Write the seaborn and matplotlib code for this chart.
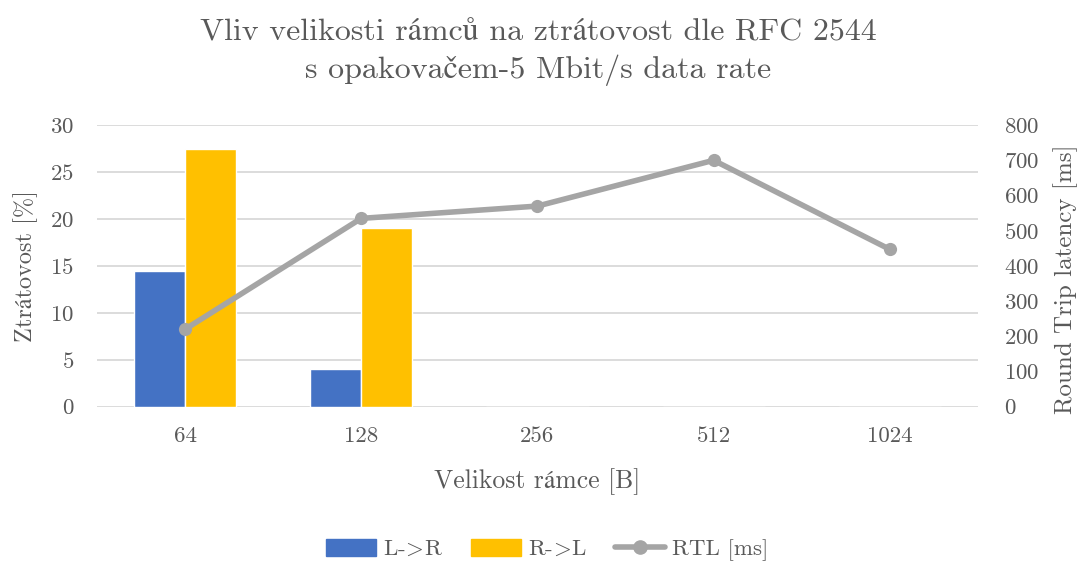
import numpy as np
import pandas as pd
import matplotlib
matplotlib.use("Agg")
import matplotlib.pyplot as plt
import seaborn as sns

frame_sizes = ["64", "128", "256", "512", "1024"]
loss_l_to_r = [14.5, 4.0, 0, 0, 0]
loss_r_to_l = [27.5, 19.0, 0, 0, 0]
rtl_ms = [220, 535, 570, 700, 447]

blue = "#4472c4"
yellow = "#ffc000"
grey = "#a5a5a5"
text_col = "#595959"

sns.set_theme(style="white")
plt.rcParams["font.family"] = ["cmr10", "STIXGeneral"]
plt.rcParams["mathtext.fontset"] = "cm"
plt.rcParams["axes.formatter.use_mathtext"] = True

df = pd.DataFrame({
    "size": frame_sizes * 2,
    "loss": loss_l_to_r + loss_r_to_l,
    "dir": ["L->R"] * 5 + ["R->L"] * 5,
})

fig, ax = plt.subplots(figsize=(10.77, 5.61), dpi=100)
fig.subplots_adjust(left=0.09, right=0.908, top=0.777, bottom=0.275)

sns.barplot(data=df, x="size", y="loss", hue="dir", order=frame_sizes,
            palette=[blue, yellow], width=0.58, saturation=1, ax=ax, legend=False)

ax.set_ylim(0, 30)
ax.set_yticks(range(0, 31, 5))
ax.grid(axis="y", color="#d9d9d9", linewidth=1.3)
ax.set_axisbelow(True)
for s in ax.spines.values():
    s.set_visible(False)
ax.tick_params(axis="both", length=0, labelsize=16.5, colors=text_col)
ax.tick_params(axis="y", pad=16.5)
ax.tick_params(axis="x", pad=14)
ax.set_xlabel("Velikost rámce [B]", fontsize=18.5, color=text_col, labelpad=16)
ax.set_ylabel("Ztrátovost [%]", fontsize=17.5, color=text_col, labelpad=9)

ax2 = ax.twinx()
pos = np.arange(len(frame_sizes))
sns.lineplot(x=pos, y=rtl_ms, ax=ax2, color=grey, linewidth=4, marker="o",
             markersize=9.5, markeredgewidth=0, legend=False)
ax2.set_ylim(0, 800)
ax2.set_yticks(range(0, 801, 100))
for s in ax2.spines.values():
    s.set_visible(False)
ax2.tick_params(axis="y", length=0, labelsize=16.5, colors=text_col, pad=19)
ax2.set_ylabel("Round Trip latency [ms]", fontsize=18, color=text_col)
ax2.yaxis.set_label_coords(1.085, 0.454)
ax2.grid(False)
ax.set_xlim(-0.5, len(frame_sizes) - 0.5)

fig.suptitle("Vliv velikosti rámců na ztrátovost dle RFC 2544\ns opakovačem-5 Mbit/s data rate",
             fontsize=23, color=text_col, y=0.966, linespacing=1.35)

handles = [
    matplotlib.patches.Patch(color=blue, label=r"L-$\!>\!$R"),
    matplotlib.patches.Patch(color=yellow, label=r"R-$\!>\!$L"),
    matplotlib.lines.Line2D([], [], color=grey, linewidth=4, marker="o",
                            markersize=9.5, label="RTL [ms]"),
]
fig.legend(handles=handles, loc="lower center", ncol=3, frameon=False,
           fontsize=16.5, bbox_to_anchor=(0.508, -0.037), handlelength=2.2,
           handleheight=0.75, handletextpad=0.3, columnspacing=1.2, labelcolor=text_col)

fig.savefig("out.png", dpi=100)
